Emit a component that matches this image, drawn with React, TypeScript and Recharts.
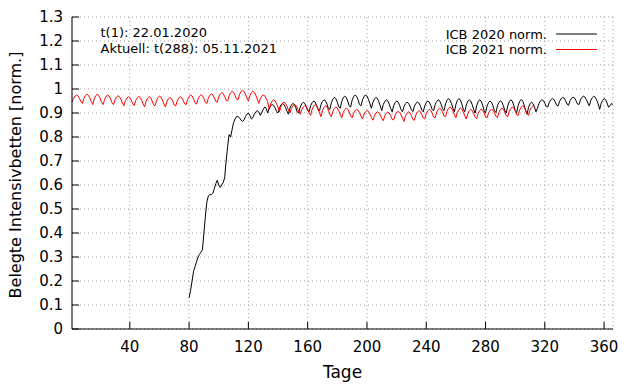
import React from "react";
import { LineChart, Line, XAxis, YAxis, CartesianGrid, Legend } from "recharts";

// day index of the first value of each series
const START_2021 = 1;
const START_2020 = 80;
const LAST_DAY = 366;

// ICB 2021 norm. (day 1 .. 313)
const icb2021 = [
  0.945, 0.959, 0.97, 0.975, 0.972, 0.961, 0.947,
  0.94, 0.961, 0.972, 0.978, 0.974, 0.963, 0.948,
  0.935, 0.959, 0.972, 0.978, 0.974, 0.961, 0.944,
  0.935, 0.957, 0.969, 0.975, 0.971, 0.959, 0.943,
  0.935, 0.955, 0.966, 0.972, 0.968, 0.957, 0.942,
  0.93, 0.951, 0.962, 0.968, 0.964, 0.953, 0.938,
  0.931, 0.952, 0.963, 0.969, 0.965, 0.953, 0.937,
  0.925, 0.949, 0.962, 0.968, 0.964, 0.951, 0.934,
  0.93, 0.952, 0.964, 0.97, 0.966, 0.954, 0.938,
  0.925, 0.947, 0.959, 0.965, 0.961, 0.949, 0.933,
  0.93, 0.951, 0.962, 0.968, 0.964, 0.953, 0.938,
  0.935, 0.957, 0.969, 0.975, 0.971, 0.959, 0.943,
  0.937, 0.958, 0.97, 0.976, 0.972, 0.96, 0.944,
  0.94, 0.962, 0.974, 0.98, 0.976, 0.964, 0.948,
  0.945, 0.967, 0.979, 0.985, 0.981, 0.969, 0.953,
  0.95, 0.972, 0.984, 0.99, 0.986, 0.974, 0.958,
  0.955, 0.977, 0.989, 0.995, 0.991, 0.979, 0.963,
  0.95, 0.972, 0.984, 0.99, 0.986, 0.974, 0.958,
  0.94, 0.959, 0.97, 0.975, 0.972, 0.961, 0.947,
  0.915, 0.937, 0.949, 0.955, 0.951, 0.939, 0.923,
  0.905, 0.927, 0.939, 0.945, 0.941, 0.929, 0.913,
  0.9, 0.919, 0.93, 0.935, 0.932, 0.921, 0.907,
  0.895, 0.914, 0.925, 0.93, 0.927, 0.916, 0.902,
  0.89, 0.915, 0.928, 0.935, 0.931, 0.917, 0.899,
  0.885, 0.91, 0.923, 0.93, 0.926, 0.912, 0.894,
  0.885, 0.907, 0.919, 0.925, 0.921, 0.909, 0.893,
  0.88, 0.902, 0.914, 0.92, 0.916, 0.904, 0.888,
  0.88, 0.899, 0.91, 0.915, 0.912, 0.901, 0.887,
  0.875, 0.894, 0.905, 0.91, 0.907, 0.896, 0.882,
  0.87, 0.889, 0.9, 0.905, 0.902, 0.891, 0.877,
  0.868, 0.888, 0.899, 0.904, 0.9, 0.889, 0.874,
  0.871, 0.891, 0.902, 0.906, 0.903, 0.892, 0.878,
  0.865, 0.887, 0.899, 0.905, 0.901, 0.889, 0.873,
  0.87, 0.892, 0.904, 0.91, 0.906, 0.894, 0.878,
  0.875, 0.897, 0.909, 0.915, 0.911, 0.899, 0.883,
  0.88, 0.902, 0.914, 0.92, 0.916, 0.904, 0.888,
  0.885, 0.907, 0.919, 0.925, 0.921, 0.909, 0.893,
  0.88, 0.902, 0.914, 0.92, 0.916, 0.904, 0.888,
  0.875, 0.897, 0.909, 0.915, 0.911, 0.899, 0.883,
  0.877, 0.898, 0.91, 0.916, 0.912, 0.9, 0.884,
  0.88, 0.899, 0.91, 0.915, 0.912, 0.901, 0.887,
  0.88, 0.902, 0.914, 0.92, 0.916, 0.904, 0.888,
  0.885, 0.907, 0.919, 0.925, 0.921, 0.909, 0.893,
  0.89, 0.912, 0.924, 0.93, 0.926, 0.914, 0.898,
  0.89, 0.912, 0.924, 0.93, 0.928,
];

// ICB 2020 norm. (day 80 .. 366)
const icb2020 = [
  0.13, 0.16, 0.2, 0.24, 0.26, 0.28, 0.3, 0.31, 0.32, 0.33,
  0.4, 0.47, 0.53, 0.555, 0.56, 0.56, 0.565, 0.585, 0.605, 0.62,
  0.6, 0.59, 0.6, 0.61, 0.63, 0.7, 0.76, 0.81, 0.8, 0.83,
  0.86, 0.875, 0.885, 0.885, 0.88, 0.87, 0.865, 0.87, 0.885, 0.895,
  0.9, 0.89, 0.875, 0.88, 0.895, 0.905, 0.91, 0.905, 0.89, 0.9,
  0.915, 0.925, 0.92,
  0.9, 0.919, 0.93, 0.935, 0.932, 0.921, 0.907,
  0.9, 0.922, 0.934, 0.94, 0.936, 0.924, 0.908,
  0.895, 0.92, 0.933, 0.94, 0.936, 0.922, 0.904,
  0.9, 0.925, 0.938, 0.945, 0.941, 0.927, 0.909,
  0.905, 0.93, 0.943, 0.95, 0.946, 0.932, 0.914,
  0.91, 0.935, 0.948, 0.955, 0.951, 0.937, 0.919,
  0.915, 0.943, 0.958, 0.965, 0.96, 0.945, 0.925,
  0.92, 0.948, 0.963, 0.97, 0.965, 0.95, 0.93,
  0.925, 0.953, 0.968, 0.975, 0.97, 0.955, 0.935,
  0.93, 0.955, 0.968, 0.975, 0.971, 0.957, 0.939,
  0.92, 0.945, 0.958, 0.965, 0.961, 0.947, 0.929,
  0.91, 0.935, 0.948, 0.955, 0.951, 0.937, 0.919,
  0.905, 0.93, 0.943, 0.95, 0.946, 0.932, 0.914,
  0.905, 0.927, 0.939, 0.945, 0.941, 0.929, 0.913,
  0.906, 0.928, 0.94, 0.946, 0.942, 0.93, 0.912,
  0.905, 0.93, 0.943, 0.95, 0.946, 0.932, 0.914,
  0.91, 0.935, 0.948, 0.955, 0.951, 0.937, 0.919,
  0.91, 0.938, 0.953, 0.96, 0.955, 0.94, 0.92,
  0.905, 0.935, 0.952, 0.96, 0.955, 0.938, 0.916,
  0.905, 0.933, 0.948, 0.955, 0.95, 0.935, 0.915,
  0.9, 0.93, 0.947, 0.955, 0.95, 0.933, 0.911,
  0.9, 0.928, 0.943, 0.95, 0.945, 0.93, 0.91,
  0.902, 0.929, 0.944, 0.951, 0.946, 0.931, 0.911,
  0.9, 0.93, 0.947, 0.955, 0.95, 0.933, 0.911,
  0.901, 0.931, 0.948, 0.956, 0.951, 0.934, 0.91,
  0.895, 0.923, 0.938, 0.945, 0.94, 0.925, 0.905,
  0.92, 0.939, 0.95, 0.955, 0.952, 0.941, 0.927,
  0.925, 0.944, 0.955, 0.96, 0.957, 0.946, 0.932,
  0.93, 0.949, 0.96, 0.965, 0.962, 0.951, 0.937,
  0.932, 0.951, 0.961, 0.966, 0.963, 0.952, 0.938,
  0.935, 0.954, 0.965, 0.97, 0.967, 0.956, 0.942,
  0.93, 0.952, 0.964, 0.97, 0.966, 0.954, 0.938,
  0.915, 0.94, 0.953, 0.96, 0.956, 0.942, 0.924,
  0.93, 0.94, 0.935,
];

const xTicks = [40, 80, 120, 160, 200, 240, 280, 320, 360];
const yTicks = [0, 0.1, 0.2, 0.3, 0.4, 0.5, 0.6, 0.7, 0.8, 0.9, 1, 1.1, 1.2, 1.3];

const data = Array.from({ length: LAST_DAY }, (_, i) => {
  const day = i + 1;
  return {
    day,
    icb2020: icb2020[day - START_2020],
    icb2021: icb2021[day - START_2021],
  };
});

const SERIES = [
  { key: "icb2020", name: "ICB 2020 norm.", color: "#000000" },
  { key: "icb2021", name: "ICB 2021 norm.", color: "#ff0000" },
];
const FONT = "'DejaVu Sans', sans-serif";
const TICK_LEN = 7;
const X_MARGIN = 12;
const Y_MARGIN = 9;

// gnuplot style: tick marks point into the plot
const BottomTick = ({ x, y, payload }: any) => (
  <g>
    <line x1={x} x2={x} y1={y - X_MARGIN} y2={y - X_MARGIN - TICK_LEN} stroke="#000" />
    <text x={x} y={y} dy="0.71em" textAnchor="middle" fontSize={15} fontFamily={FONT} fill="#000">
      {payload.value}
    </text>
  </g>
);

const LeftTick = ({ x, y, payload }: any) => (
  <g>
    <line x1={x + Y_MARGIN} x2={x + Y_MARGIN + TICK_LEN} y1={y} y2={y} stroke="#000" />
    <text x={x} y={y} dy="0.36em" textAnchor="end" fontSize={15} fontFamily={FONT} fill="#000">
      {payload.value}
    </text>
  </g>
);

const TopTick = ({ x, y }: any) => (
  <line x1={x} x2={x} y1={y} y2={y + TICK_LEN} stroke="#000" />
);

const RightTick = ({ x, y }: any) => (
  <line x1={x} x2={x - TICK_LEN} y1={y} y2={y} stroke="#000" />
);

const KeyBox = () => (
  <svg width={190} height={36} style={{ display: "block" }}>
    {SERIES.map((s, i) => (
      <g key={s.key}>
        <text
          x={117}
          y={10 + i * 15.5}
          dy="0.36em"
          textAnchor="end"
          fontSize={13}
          fontFamily={FONT}
          fill="#000"
        >
          {s.name}
        </text>
        <line x1={126} x2={167} y1={10 + i * 15.5} y2={10 + i * 15.5} stroke={s.color} />
      </g>
    ))}
  </svg>
);

export default function App() {
  return (
    <div style={{ position: "absolute", left: 0, top: 0, width: 640, height: 384, background: "#fff" }}>
      <LineChart
        width={640}
        height={384}
        data={data}
        margin={{ top: 17, right: 27, bottom: 0, left: 0 }}
      >
        <CartesianGrid stroke="#a0a0a0" strokeDasharray="1 3" />
        <XAxis
          dataKey="day"
          type="number"
          domain={[1, LAST_DAY]}
          ticks={xTicks}
          height={55}
          tickSize={0}
          tickMargin={X_MARGIN}
          tickLine={false}
          axisLine={{ stroke: "#000" }}
          tick={<BottomTick />}
          interval={0}
        />
        <XAxis
          xAxisId="top"
          orientation="top"
          dataKey="day"
          type="number"
          domain={[1, LAST_DAY]}
          ticks={xTicks}
          height={0}
          tickSize={0}
          tickMargin={0}
          tickLine={false}
          axisLine={{ stroke: "#000" }}
          tick={<TopTick />}
          interval={0}
        />
        <YAxis
          type="number"
          domain={[0, 1.3]}
          ticks={yTicks}
          width={72}
          tickSize={0}
          tickMargin={Y_MARGIN}
          tickLine={false}
          axisLine={{ stroke: "#000" }}
          tick={<LeftTick />}
          interval={0}
        />
        <YAxis
          yAxisId="right"
          orientation="right"
          type="number"
          domain={[0, 1.3]}
          ticks={yTicks}
          width={0}
          tickSize={0}
          tickMargin={0}
          tickLine={false}
          axisLine={{ stroke: "#000" }}
          tick={<RightTick />}
          interval={0}
        />
        <Legend
          layout="horizontal"
          verticalAlign="middle"
          align="center"
          content={<KeyBox />}
          wrapperStyle={{ left: 430, top: 24, width: 190, height: 36 }}
        />
        {SERIES.map((s) => (
          <Line
            key={s.key}
            type="linear"
            dataKey={s.key}
            name={s.name}
            stroke={s.color}
            strokeWidth={1}
            dot={false}
            activeDot={false}
            isAnimationActive={false}
          />
        ))}
      </LineChart>
      <svg
        width={640}
        height={384}
        style={{ position: "absolute", left: 0, top: 0, pointerEvents: "none" }}
        fontFamily={FONT}
      >
        <text x={100.5} y={36.5} fontSize={13} fill="#000">t(1): 22.01.2020</text>
        <text x={100.5} y={52.5} fontSize={13} fill="#000">Aktuell: t(288): 05.11.2021</text>
        <text
          x={15}
          y={175}
          fontSize={16}
          fill="#000"
          textAnchor="middle"
          dy="0.36em"
          transform="rotate(-90 15 175)"
        >
          Belegte Intensivbetten [norm.]
        </text>
        <text x={342.5} y={377.5} fontSize={17} fill="#000" textAnchor="middle">Tage</text>
      </svg>
    </div>
  );
}
